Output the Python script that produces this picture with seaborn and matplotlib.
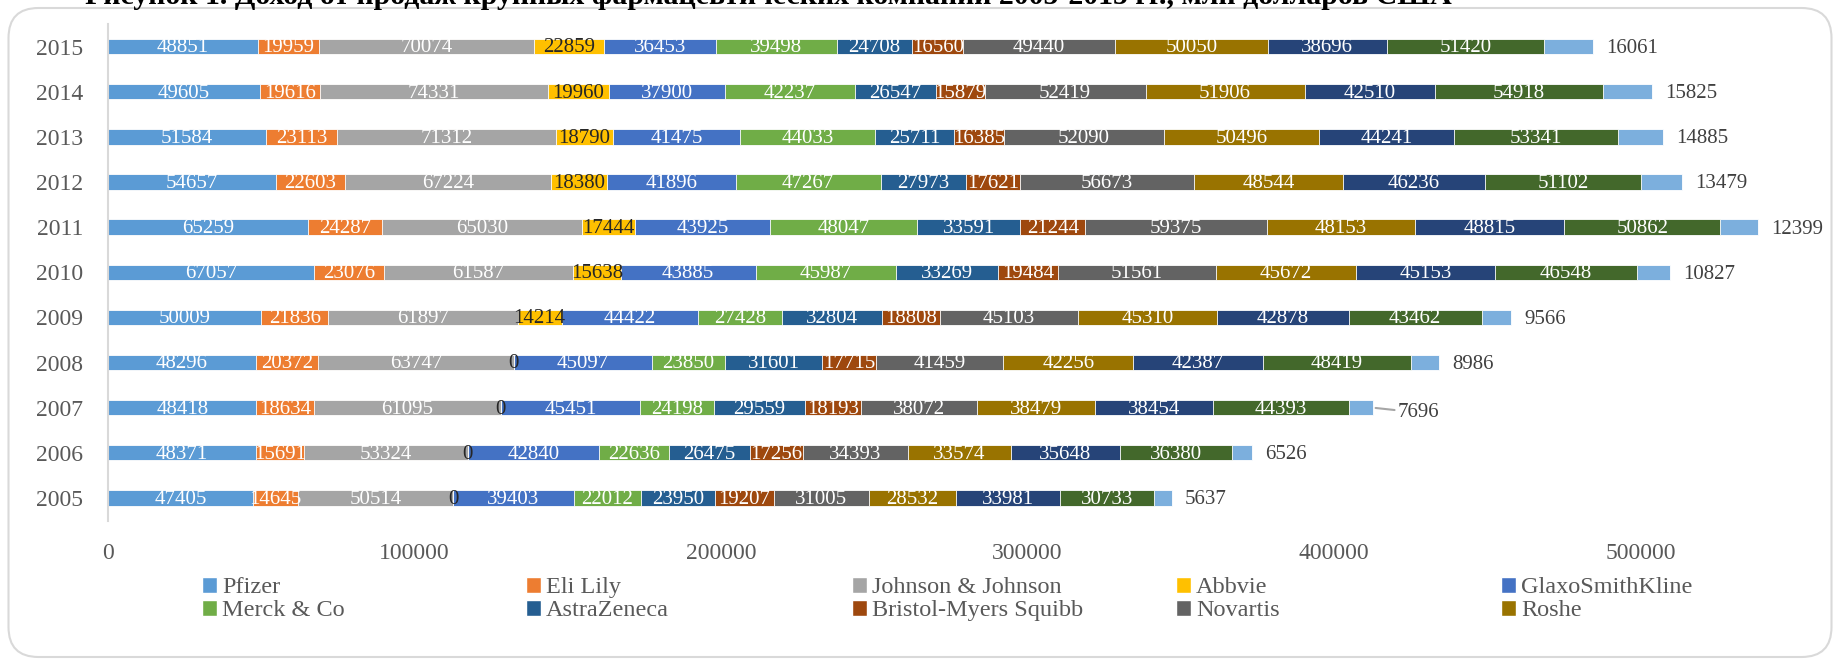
import matplotlib
matplotlib.use("Agg")
import matplotlib.pyplot as plt
import numpy as np
import pandas as pd
import seaborn as sns
from matplotlib.patches import FancyBboxPatch, Patch

# Revenue, mln USD, rows 2015 -> 2005
years = ["2015", "2014", "2013", "2012", "2011", "2010", "2009", "2008", "2007", "2006", "2005"]
companies = [
    "Pfizer", "Eli Lily", "Johnson & Johnson", "Abbvie", "GlaxoSmithKline",
    "Merck & Co", "AstraZeneca", "Bristol-Myers Squibb", "Novartis", "Roshe",
    "Series 11", "Series 12", "Series 13",
]
pfizer = [48851, 49605, 51584, 54657, 65259, 67057, 50009, 48296, 48418, 48371, 47405]
eli_lily = [19959, 19616, 23113, 22603, 24287, 23076, 21836, 20372, 18634, 15691, 14645]
jnj = [70074, 74331, 71312, 67224, 65030, 61587, 61897, 63747, 61095, 53324, 50514]
abbvie = [22859, 19960, 18790, 18380, 17444, 15638, 14214, 0, 0, 0, 0]
gsk = [36453, 37900, 41475, 41896, 43925, 43885, 44422, 45097, 45451, 42840, 39403]
merck = [39498, 42237, 44033, 47267, 48047, 45987, 27428, 23850, 24198, 22636, 22012]
astrazeneca = [24708, 26547, 25711, 27973, 33591, 33269, 32804, 31601, 29559, 26475, 23950]
bms = [16560, 15879, 16385, 17621, 21244, 19484, 18808, 17715, 18193, 17256, 19207]
novartis = [49440, 52419, 52090, 56673, 59375, 51561, 45103, 41459, 38072, 34393, 31005]
roshe = [50050, 51906, 50496, 48544, 48153, 45672, 45310, 42256, 38479, 33574, 28532]
series11 = [38696, 42510, 44241, 46236, 48815, 45153, 42878, 42387, 38454, 35648, 33981]
series12 = [51420, 54918, 53341, 51102, 50862, 46548, 43462, 48419, 44393, 36380, 30733]
series13 = [16061, 15825, 14885, 13479, 12399, 10827, 9566, 8986, 7696, 6526, 5637]

colors = ["#5B9BD5", "#ED7D31", "#A5A5A5", "#FFC000", "#4472C4", "#70AD47", "#255E91",
          "#9E480E", "#636363", "#997300", "#264478", "#43682B", "#7CAFDD"]

title = "Рисунок 1. Доход от продаж крупных фармацевтических компаний 2005-2015 гг., млн долларов США"

df = pd.DataFrame(
    np.column_stack([pfizer, eli_lily, jnj, abbvie, gsk, merck, astrazeneca, bms,
                     novartis, roshe, series11, series12, series13]),
    index=years, columns=companies,
)
cum = df.cumsum(axis=1)

sns.set_theme(style="white")
plt.rcParams["font.family"] = ["Liberation Serif", "DejaVu Serif"]

fig = plt.figure(figsize=(18.37, 6.6), dpi=100)
ax = fig.add_axes([108 / 1837, 1 - 520.5 / 660, (1800 - 108) / 1837, (520.5 - 24) / 660])

# stacked bars: draw cumulative totals from the outermost layer inwards
for i in range(len(companies) - 1, -1, -1):
    layer = pd.DataFrame({"year": years, "value": cum.iloc[:, i].values})
    sns.barplot(data=layer, x="value", y="year", order=years, orient="h",
                color=colors[i], saturation=1, width=0.34, errorbar=None,
                edgecolor="white", linewidth=0.6, ax=ax)

# value labels
for r, yr in enumerate(years):
    for i, name in enumerate(companies[:-1]):
        v = df.loc[yr, name]
        xc = cum.loc[yr, name] - v / 2
        tc = "#262626" if name == "Abbvie" else "white"
        ax.text(xc, r + 0.03, f"{v}", ha="center", va="center", fontsize=15, color=tc)
    last = df.loc[yr, companies[-1]]
    total = cum.loc[yr, companies[-1]]
    if yr == "2007":
        ax.annotate(f"{last}", xy=(total, r), xytext=(25, -5), textcoords="offset pixels",
                    ha="left", va="center", fontsize=15, color="#404040",
                    arrowprops=dict(arrowstyle="-", color="#A6A6A6", lw=1.5,
                                    shrinkA=0, shrinkB=2))
    else:
        ax.annotate(f"{last}", xy=(total, r), xytext=(13, -2), textcoords="offset pixels",
                    ha="left", va="center", fontsize=15, color="#404040")

ax.set_xlim(0, 552000)
ax.set_xticks([0, 100000, 200000, 300000, 400000, 500000])
ax.set_xticklabels(["0", "100000", "200000", "300000", "400000", "500000"])
ax.set_xlabel("")
ax.set_ylabel("")
ax.tick_params(axis="x", length=0, pad=16, labelsize=17, labelcolor="#595959")
ax.tick_params(axis="y", length=0, pad=18, labelsize=17, labelcolor="#595959")
for s in ["top", "right", "bottom"]:
    ax.spines[s].set_visible(False)
ax.spines["left"].set_color("#D9D9D9")
ax.spines["left"].set_linewidth(1.5)
ax.grid(False)

# legend: five equal-width columns, two rows (third row clipped like the source)
col_x = [202, 526, 852, 1176, 1501]
for c in range(5):
    handles = [Patch(facecolor=colors[c]), Patch(facecolor=colors[c + 5])]
    labels = [companies[c], companies[c + 5]]
    fig.legend(handles, labels, loc="upper left",
               bbox_to_anchor=(col_x[c] / 1837, 1 - 577 / 660),
               frameon=False, fontsize=17.5, labelcolor="#595959",
               handlelength=0.62, handleheight=0.62, handletextpad=0.2,
               labelspacing=0.06, borderpad=0, borderaxespad=0)

# cut-off figure caption above the chart frame
fig.text(85 / 1837, 1 - 3.5 / 660, title, ha="left", va="baseline",
         fontsize=21.5, fontweight="bold", color="black")

frame = FancyBboxPatch((0.085, 0.03), 18.23, 6.49, boxstyle="round,pad=0,rounding_size=0.3",
                       transform=fig.dpi_scale_trans, facecolor="none",
                       edgecolor="#D9D9D9", linewidth=1.5)
fig.patches.append(frame)

fig.savefig("out.png", dpi=100)
